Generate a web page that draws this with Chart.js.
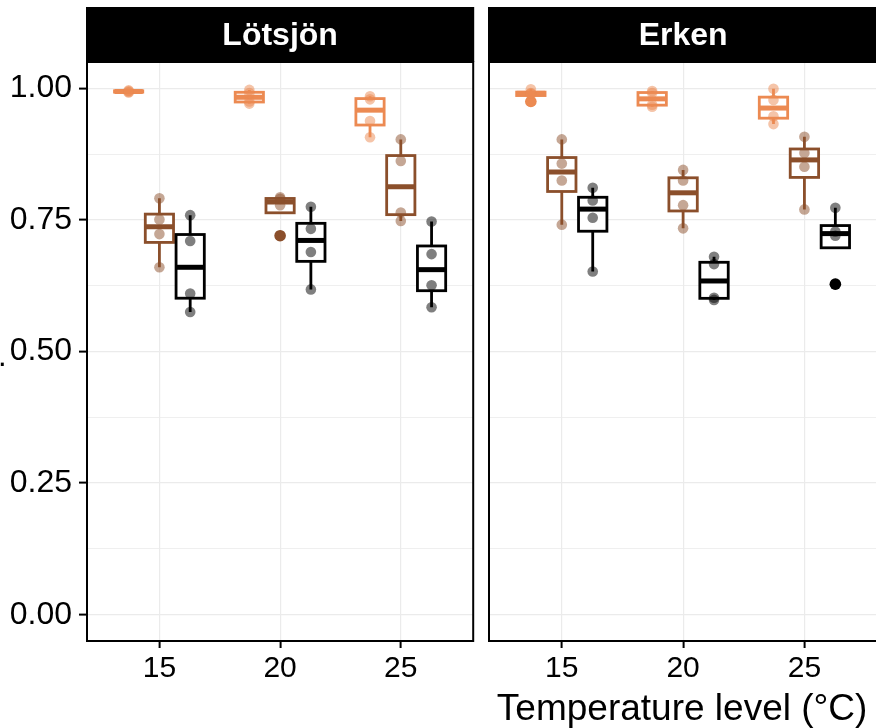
<!DOCTYPE html>
<html>
<head>
<meta charset="utf-8">
<script src="https://cdn.jsdelivr.net/npm/chart.js@4.4.1/dist/chart.umd.min.js"></script>
<style>
html, body { margin: 0; padding: 0; background: #fff; }
#wrap { position: relative; width: 876px; height: 728px; overflow: hidden; }
canvas { position: absolute; top: 0; }
#cLot { left: 0; }
#cErk { left: 476px; }
</style>
</head>
<body>
<div id="wrap">
  <canvas id="cLot" width="479" height="728"></canvas>
  <canvas id="cErk" width="407" height="728"></canvas>
</div>
<script>
// ===== DATA =====
const temps = [15, 20, 25];
const yTicks = [0, 0.25, 0.5, 0.75, 1];
const yMinor = [0.125, 0.375, 0.625, 0.875];
const xTitle = 'Temperature level (°C)';

// replicates per temperature level (15, 20, 25)
const lotOrange = [[0.992, 0.993, 0.995, 0.996], [0.971, 0.975, 0.991, 0.997], [0.907, 0.938, 0.979, 0.985]];
const lotBrown  = [[0.660, 0.723, 0.751, 0.791], [0.720, 0.778, 0.790, 0.793], [0.748, 0.764, 0.862, 0.903]];
const lotBlack  = [[0.575, 0.610, 0.710, 0.759], [0.618, 0.689, 0.733, 0.775], [0.584, 0.626, 0.685, 0.747]];
const erkOrange = [[0.975, 0.990, 0.991, 0.998], [0.965, 0.969, 0.991, 0.995], [0.932, 0.947, 0.978, 0.999]];
const erkBrown  = [[0.741, 0.825, 0.857, 0.903], [0.734, 0.778, 0.825, 0.845], [0.770, 0.851, 0.877, 0.908]];
const erkBlack  = [[0.652, 0.754, 0.787, 0.811], [0.598, 0.602, 0.666, 0.680], [0.628, 0.720, 0.728, 0.773]];

// ===== STYLE =====
const colOrange = '#EC8A52', colBrown = '#8B4F2B', colBlack = '#000000';
const dodge = 1.275, halfBox = 0.585;
const FONT = '"Liberation Sans", Arial, sans-serif';
Chart.defaults.font.family = FONT;
Chart.defaults.color = '#000';

function alpha(hex, a) {
    const n = parseInt(hex.slice(1), 16);
    return `rgba(${n >> 16},${(n >> 8) & 255},${n & 255},${a})`;
}

// quantile type 7 (R default)
function quantile(s, p) {
    const h = (s.length - 1) * p, lo = Math.floor(h);
    const hi = Math.min(lo + 1, s.length - 1);
    return s[lo] + (h - lo) * (s[hi] - s[lo]);
}
function boxStats(vals) {
    const s = [...vals].sort((a, b) => a - b);
    const q1 = quantile(s, 0.25), med = quantile(s, 0.5), q3 = quantile(s, 0.75);
    const iqr = q3 - q1, lo = q1 - 1.5 * iqr, hi = q3 + 1.5 * iqr;
    const inside = s.filter(v => v >= lo && v <= hi);
    return { q1, med, q3, wLo: Math.min(...inside), wHi: Math.max(...inside), out: s.filter(v => v < lo || v > hi) };
}

// ===== PLUGIN: boxes, strip, frame =====
const boxPlugin = {
    id: 'boxes',
    beforeDatasetsDraw(chart, args, opts) {
        const { ctx, scales: { x, y } } = chart;
        ctx.save();
        opts.groups.forEach(g => {
            g.values.forEach((vals, i) => {
                const st = boxStats(vals);
                const xc = temps[i] + g.offset;
                const px = x.getPixelForValue(xc);
                const l = x.getPixelForValue(xc - halfBox), r = x.getPixelForValue(xc + halfBox);
                ctx.strokeStyle = g.color;
                ctx.lineWidth = 2.8;
                // whiskers
                ctx.beginPath();
                ctx.moveTo(px, y.getPixelForValue(st.q3)); ctx.lineTo(px, y.getPixelForValue(st.wHi));
                ctx.moveTo(px, y.getPixelForValue(st.q1)); ctx.lineTo(px, y.getPixelForValue(st.wLo));
                ctx.stroke();
                // box
                const t = y.getPixelForValue(st.q3), b = y.getPixelForValue(st.q1);
                ctx.fillStyle = '#fff';
                ctx.fillRect(l, t, r - l, b - t);
                ctx.strokeRect(l, t, r - l, b - t);
                // median
                ctx.lineWidth = 5;
                ctx.beginPath();
                ctx.moveTo(l, y.getPixelForValue(st.med)); ctx.lineTo(r, y.getPixelForValue(st.med));
                ctx.stroke();
            });
        });
        ctx.restore();
    },
    afterDraw(chart, args, opts) {
        const { ctx, chartArea: a } = chart;
        ctx.save();
        // strip
        ctx.fillStyle = '#000';
        ctx.fillRect(a.left - 1, 7, a.right - a.left + 2, a.top - 7);
        ctx.fillStyle = '#fff';
        ctx.font = 'bold 32px ' + FONT;
        ctx.textAlign = 'center';
        ctx.textBaseline = 'alphabetic';
        ctx.fillText(opts.label, (a.left + a.right) / 2, 45);
        // frame
        ctx.strokeStyle = '#000';
        ctx.lineWidth = 2;
        ctx.strokeRect(a.left, a.top, a.right - a.left, a.bottom - a.top);
        ctx.fillStyle = '#000';
        if (opts.xTitle) {
            ctx.font = '37px ' + FONT;
            ctx.fillText(opts.xTitle, (a.left + a.right) / 2 - 1, 720);
        }
        if (opts.edgeDot) {
            ctx.font = '31px ' + FONT;
            ctx.textAlign = 'left';
            ctx.fillText('.', -2, 366);
        }
        ctx.restore();
    }
};

function makeDatasets(groups) {
    const ds = [];
    groups.forEach(g => {
        const outPts = [], pts = [];
        g.values.forEach((vals, i) => {
            boxStats(vals).out.forEach(v => outPts.push({ x: temps[i] + g.offset, y: v }));
            vals.forEach(v => pts.push({ x: temps[i] + g.offset, y: v }));
        });
        ds.push({ data: outPts, backgroundColor: g.color, pointRadius: 5.8, borderWidth: 0, order: 2 });
        ds.push({ data: pts, backgroundColor: alpha(g.color, 0.5), pointRadius: 5.3, borderWidth: 0, order: 1 });
    });
    return ds;
}

function makeChart(id, label, groups, isLeft) {
    const isMajor = v => yTicks.some(t => Math.abs(t - v) < 1e-9);
    return new Chart(document.getElementById(id), {
        type: 'scatter',
        data: { datasets: makeDatasets(groups) },
        options: {
            responsive: false,
            animation: false,
            events: [],
            layout: { padding: { top: 62, right: 2, left: 0, bottom: 0 } },
            plugins: {
                legend: { display: false },
                tooltip: { enabled: false },
                boxes: { groups, label, xTitle: isLeft ? null : xTitle, edgeDot: isLeft }
            },
            scales: {
                x: {
                    type: 'linear', min: 12, max: 28,
                    afterBuildTicks: s => { s.ticks = temps.map(v => ({ value: v })); },
                    afterFit: s => { s.height = 87; },
                    ticks: { font: { size: 30 }, padding: 3, autoSkip: false, maxRotation: 0, callback: v => String(v) },
                    grid: { color: '#EBEBEB', lineWidth: 1.2, tickLength: 7, tickColor: '#000', tickWidth: 2 },
                    border: { display: false }
                },
                y: {
                    type: 'linear', min: -0.05, max: 1.05,
                    afterBuildTicks: s => { s.ticks = [...yTicks, ...yMinor].sort((a, b) => a - b).map(v => ({ value: v })); },
                    afterFit: s => { s.width = isLeft ? 87 : 13; },
                    ticks: {
                        display: isLeft, font: { size: 32 }, padding: 7, autoSkip: false,
                        callback: v => isMajor(v) ? v.toFixed(2) : ''
                    },
                    grid: {
                        color: '#EBEBEB',
                        lineWidth: c => isMajor(c.tick.value) ? 1.2 : 0.8,
                        drawTicks: isLeft, tickLength: 8, tickWidth: 2,
                        tickColor: c => isMajor(c.tick.value) ? '#000' : 'rgba(0,0,0,0)'
                    },
                    border: { display: false }
                }
            }
        },
        plugins: [boxPlugin]
    });
}

makeChart('cLot', 'Lötsjön', [
    { values: lotOrange, color: colOrange, offset: -dodge },
    { values: lotBrown, color: colBrown, offset: 0 },
    { values: lotBlack, color: colBlack, offset: dodge }
], true);
makeChart('cErk', 'Erken', [
    { values: erkOrange, color: colOrange, offset: -dodge },
    { values: erkBrown, color: colBrown, offset: 0 },
    { values: erkBlack, color: colBlack, offset: dodge }
], false);
</script>
</body>
</html>
